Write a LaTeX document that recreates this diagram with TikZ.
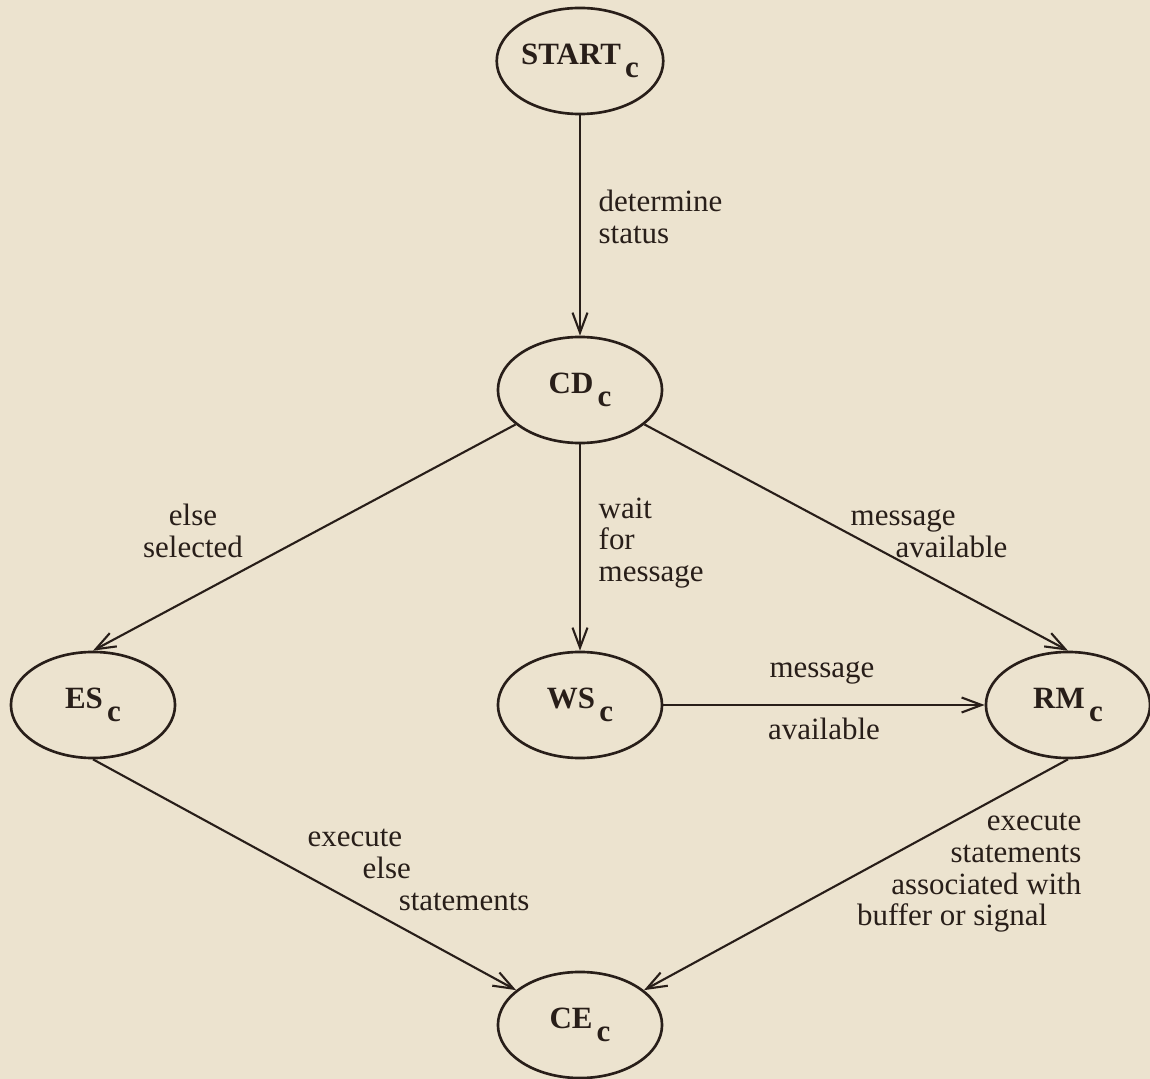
\documentclass[tikz,border=0pt]{standalone}
\usepackage{fontspec}
\setmainfont{Liberation Serif}
\usepackage{xcolor}
\usetikzlibrary{shapes,arrows.meta,positioning}

\definecolor{paper}{RGB}{236,227,207}
\definecolor{ink}{RGB}{40,30,25}
\newcommand{\stlabel}[1]{#1\kern1.2pt\raisebox{-3.8pt}{c}}

\begin{document}
\begin{tikzpicture}[
    x=0.01cm, y=-0.01cm,
    >={Straight Barb[length=2mm,width=1.5mm]},
    state/.style={draw=ink, ellipse, line width=0.75pt, minimum width=1.64cm, minimum height=1.06cm, inner sep=0pt, text=ink, font=\fontsize{8.8}{10}\selectfont\bfseries},
    lbl/.style={inner sep=0pt, text=ink, font=\fontsize{8.8}{9}\selectfont},
    flow/.style={->, draw=ink, line width=0.6pt},
]
    % Page
    \fill[paper] (0,0) rectangle (1150,1079);
    \useasboundingbox (0,0) rectangle (1150,1079);

    % States
    \node[state] (start) at (580,61) {\stlabel{START}};
    \node[state] (cd) at (580,390) {\stlabel{CD}};
    \node[state] (es) at (93,705) {\stlabel{ES}};
    \node[state] (ws) at (580,705) {\stlabel{WS}};
    \node[state] (rm) at (1068,705) {\stlabel{RM}};
    \node[state] (ce) at (580,1025) {\stlabel{CE}};

    % Transitions
    \draw[flow] (start) -- (cd);
    \draw[flow] (cd) -- (es.north);
    \draw[flow] (cd) -- (ws);
    \draw[flow] (cd) -- (rm.north);
    \draw[flow] (ws) -- (rm);
    \draw[flow] (es.south) -- (ce);
    \draw[flow] (rm.south) -- (ce);

    % Labels
    \node[lbl, anchor=west, align=left] (l-status) at (598,217) {determine\\status};
    \node[lbl, anchor=west, align=left] (l-wait) at (598,543) {wait\\for\\message};
    \node[lbl, align=center] (l-else) at (193,531) {else\\selected};
    \node[lbl, anchor=west, align=left] (l-avail) at (850,534) {message\\\hspace*{0.45cm}available};
    \node[lbl, anchor=base] (l-msg) at (822,678) {message};
    \node[lbl, anchor=base] (l-msg2) at (824,740) {available};
    \node[lbl, anchor=west, align=left] (l-exelse) at (307,870) {execute\\\hspace*{0.55cm}else\\\hspace*{0.91cm}statements};
    \node[lbl, anchor=east, align=right] (l-exbuf) at (1082,873) {execute\\statements\hspace*{0.19cm}\\associated with\hspace*{0.24cm}\\buffer or signal\hspace*{0.34cm}};
\end{tikzpicture}
\end{document}
